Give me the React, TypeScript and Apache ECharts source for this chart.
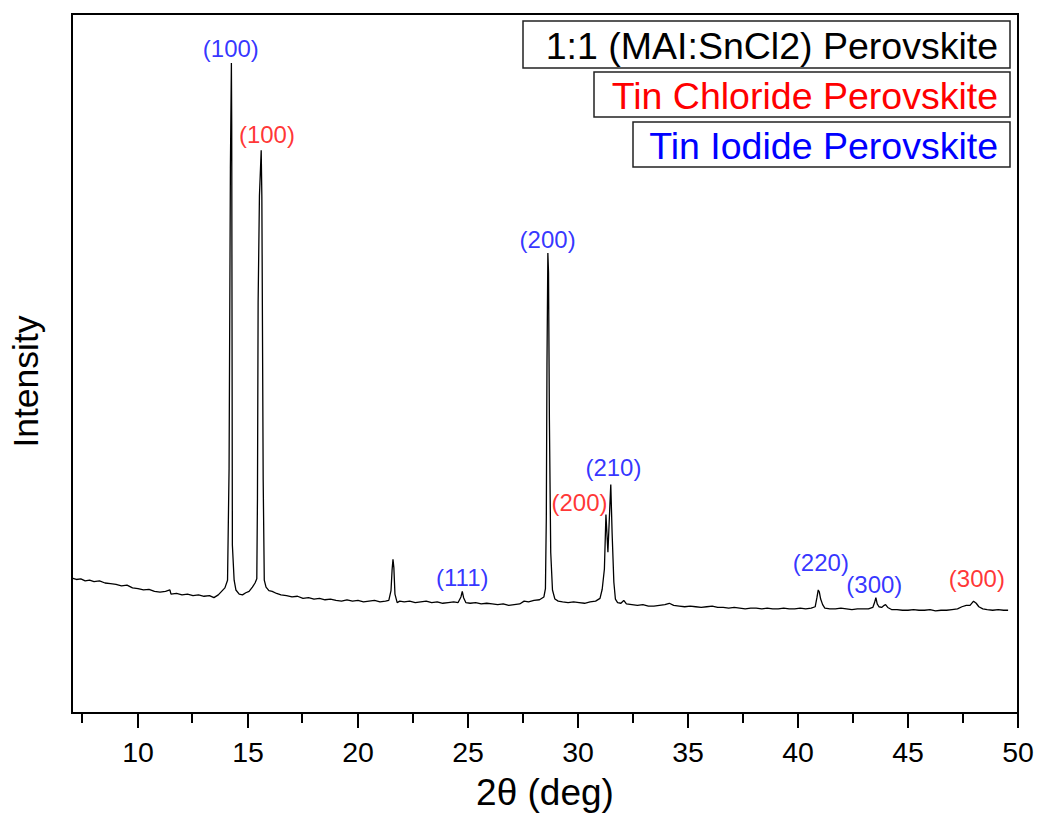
import React, { useEffect, useRef } from "react";
import * as echarts from "echarts";

// XRD pattern: [2θ (deg), intensity (a.u.)]
const pattern: [number, number][] = [
  [7.0, 19.3], [7.2, 19.1], [7.4, 19.2], [7.6, 18.9], [7.8, 19.0], [8.0, 18.8], [8.25, 18.9], [8.5, 18.6],
  [8.75, 18.5], [9.0, 18.4], [9.25, 18.2], [9.5, 18.3], [9.75, 17.9], [10.0, 17.8], [10.25, 17.6], [10.5, 17.7],
  [10.75, 17.4], [11.0, 17.3], [11.25, 17.4], [11.45, 17.6], [11.5, 17.0], [11.75, 17.1], [12.0, 16.9],
  [12.25, 17.0], [12.5, 16.8], [12.75, 16.9], [13.0, 16.7], [13.25, 16.8], [13.45, 16.5], [13.65, 16.9],
  [13.8, 17.4], [13.95, 17.9], [14.07, 19.0], [14.14, 35], [14.2, 78], [14.245, 93], [14.26, 84], [14.29, 24],
  [14.37, 19], [14.45, 17.6], [14.6, 17.0], [14.75, 16.9], [14.9, 17.2], [15.05, 17.4], [15.2, 18.0],
  [15.32, 18.6], [15.4, 19.2], [15.43, 30.7], [15.46, 58.7], [15.52, 74], [15.6, 80.5], [15.63, 73.8],
  [15.69, 33.4], [15.74, 19], [15.82, 18.0], [15.95, 17.5], [16.1, 17.4], [16.3, 17.1], [16.5, 16.9],
  [16.75, 16.8], [17.0, 16.6], [17.25, 16.7], [17.5, 16.4], [17.75, 16.5], [18.0, 16.3], [18.25, 16.4],
  [18.5, 16.2], [18.75, 16.3], [19.0, 16.1], [19.25, 16.0], [19.5, 16.2], [19.75, 16.0], [20.0, 16.1],
  [20.25, 15.9], [20.5, 16.0], [20.75, 16.1], [21.0, 15.9], [21.25, 16.0], [21.4, 16.1], [21.5, 17.5],
  [21.55, 20.5], [21.59, 22.0], [21.63, 20.8], [21.68, 17.0], [21.78, 15.8], [21.9, 16.0], [22.1, 15.9],
  [22.35, 16.0], [22.6, 15.8], [22.85, 15.9], [23.1, 16.0], [23.35, 15.8], [23.6, 15.9], [23.85, 15.7],
  [24.1, 15.8], [24.35, 15.9], [24.55, 15.8], [24.68, 16.6], [24.74, 17.4], [24.8, 16.5], [24.9, 15.8],
  [25.1, 15.7], [25.35, 15.8], [25.6, 15.6], [25.85, 15.7], [26.1, 15.6], [26.35, 15.5], [26.6, 15.6],
  [26.85, 15.4], [27.1, 15.5], [27.35, 15.6], [27.55, 16.0], [27.75, 15.9], [28.0, 16.1], [28.25, 16.2],
  [28.45, 16.6], [28.52, 17.8], [28.56, 28], [28.59, 50], [28.63, 65.8], [28.66, 63], [28.7, 42], [28.76, 23],
  [28.84, 17.6], [28.95, 16.3], [29.1, 16.0], [29.3, 15.9], [29.55, 15.8], [29.8, 15.9], [30.05, 15.8],
  [30.3, 15.7], [30.55, 15.9], [30.8, 16.0], [31.0, 16.4], [31.1, 17.7], [31.2, 20.6], [31.27, 28.4],
  [31.36, 23.0], [31.49, 32.7], [31.55, 25.8], [31.63, 18.7], [31.7, 16.3], [31.8, 15.8], [31.95, 15.7],
  [32.08, 16.1], [32.2, 15.6], [32.45, 15.5], [32.7, 15.4], [32.95, 15.5], [33.2, 15.3], [33.45, 15.3],
  [33.7, 15.4], [33.95, 15.5], [34.15, 15.7], [34.35, 15.4], [34.6, 15.3], [34.85, 15.2], [35.1, 15.3],
  [35.35, 15.2], [35.6, 15.1], [35.85, 15.2], [36.1, 15.3], [36.35, 15.1], [36.6, 15.1], [36.85, 15.0],
  [37.1, 15.1], [37.35, 15.0], [37.6, 14.9], [37.85, 15.0], [38.1, 15.0], [38.35, 14.9], [38.6, 15.0],
  [38.85, 14.9], [39.1, 14.9], [39.35, 15.0], [39.6, 14.9], [39.85, 14.9], [40.1, 15.0], [40.35, 14.9],
  [40.6, 15.0], [40.78, 15.2], [40.86, 16.5], [40.92, 17.6], [40.97, 17.3], [41.03, 16.3], [41.12, 15.5],
  [41.22, 15.0], [41.45, 14.9], [41.7, 14.9], [41.95, 15.0], [42.2, 14.9], [42.45, 14.8], [42.7, 14.9],
  [42.95, 14.9], [43.2, 14.9], [43.4, 15.1], [43.48, 15.8], [43.54, 16.5], [43.6, 15.6], [43.68, 15.2],
  [43.8, 15.1], [43.92, 15.4], [43.98, 15.5], [44.08, 15.1], [44.25, 14.8], [44.5, 14.8], [44.75, 14.7],
  [45.0, 14.7], [45.25, 14.8], [45.5, 14.7], [45.75, 14.7], [46.0, 14.8], [46.25, 14.6], [46.5, 14.7],
  [46.75, 14.7], [47.0, 14.8], [47.25, 14.9], [47.45, 15.2], [47.65, 15.4], [47.82, 15.4], [47.98, 16.0],
  [48.1, 15.7], [48.22, 15.2], [48.4, 14.9], [48.6, 14.8], [48.85, 14.7], [49.1, 14.8], [49.35, 14.7],
  [49.55, 14.7],
];

const majorTicks = [10, 15, 20, 25, 30, 35, 40, 45, 50];
const minorTicks = [7.5, 12.5, 17.5, 22.5, 27.5, 32.5, 37.5, 42.5, 47.5];

// Peak index annotations
const peakLabels = ["(100)", "(100)", "(111)", "(200)", "(200)", "(210)", "(220)", "(300)", "(300)"];
const peakLabelX = [14.22, 15.86, 24.74, 28.62, 30.07, 31.61, 41.04, 43.47, 48.13];
const peakLabelY = [95.1, 82.8, 19.4, 67.7, 30.1, 35.1, 21.6, 18.4, 19.3];
const peakPhase = ["iodide", "chloride", "iodide", "iodide", "chloride", "iodide", "iodide", "iodide", "chloride"];

const legendLabels = ["1:1 (MAI:SnCl2) Perovskite", "Tin Chloride Perovskite", "Tin Iodide Perovskite"];
const legendColors = ["#000000", "#ff0000", "#0000ff"];

const FONT = "'Liberation Sans', Arial, sans-serif";
const phaseColor: Record<string, string> = { iodide: "#0000ff", chloride: "#ff0000" };

export default function App() {
  const ref = useRef<HTMLDivElement>(null);

  useEffect(() => {
    if (!ref.current) return;
    const chart = echarts.init(ref.current, undefined, { renderer: "svg" });

    const legendBoxes = [
      { x: 523, y: 21, w: 487, h: 47 },
      { x: 594, y: 72, w: 416, h: 45 },
      { x: 633, y: 122, w: 377, h: 45 },
    ];

    const graphic: any[] = [];
    legendLabels.forEach((label, i) => {
      const b = legendBoxes[i];
      graphic.push({
        type: "rect",
        shape: { x: b.x, y: b.y, width: b.w, height: b.h },
        style: { fill: "#ffffff", stroke: "#222222", lineWidth: 1.5 },
        z: 10,
      });
      graphic.push({
        type: "text",
        x: 998,
        y: b.y + b.h / 2 + 1,
        style: {
          text: label,
          fill: legendColors[i],
          font: `37.5px ${FONT}`,
          textAlign: "right",
          textVerticalAlign: "middle",
        },
        z: 11,
      });
    });

    const gridBox = { left: 71, right: 21, top: 14, bottom: 102 };

    chart.setOption({
      animation: false,
      backgroundColor: "#ffffff",
      grid: [
        { ...gridBox, show: true, borderColor: "#000", borderWidth: 2, backgroundColor: "transparent" },
        { ...gridBox, show: false },
      ],
      xAxis: [
        {
          type: "value",
          gridIndex: 0,
          min: 7,
          max: 50,
          position: "bottom",
          axisLine: { show: true, onZero: false, lineStyle: { color: "#000", width: 2 } },
          axisTick: { show: true, inside: false, length: 15, customValues: majorTicks, lineStyle: { color: "#000", width: 2 } },
          axisLabel: { show: true, customValues: majorTicks, margin: 24, color: "#000", fontSize: 28.5, fontFamily: FONT },
          splitLine: { show: false },
          name: "2θ (deg)",
          nameLocation: "middle",
          nameGap: 61,
          nameTextStyle: { color: "#000", fontSize: 37, fontFamily: FONT },
        },
        {
          type: "value",
          gridIndex: 1,
          min: 7,
          max: 50,
          position: "bottom",
          axisLine: { show: false, onZero: false },
          axisTick: { show: true, inside: false, length: 9, customValues: minorTicks, lineStyle: { color: "#000", width: 2 } },
          axisLabel: { show: false },
          splitLine: { show: false },
        },
      ],
      yAxis: [
        {
          type: "value",
          gridIndex: 0,
          min: 0,
          max: 100,
          axisLine: { show: true, onZero: false, lineStyle: { color: "#000", width: 2 } },
          axisTick: { show: false },
          axisLabel: { show: false },
          splitLine: { show: false },
          name: "Intensity",
          nameLocation: "middle",
          nameGap: 28,
          nameRotate: 90,
          nameTextStyle: { color: "#000", fontSize: 35.5, fontFamily: FONT, padding: [0, 36, 0, 0] },
        },
        {
          type: "value",
          gridIndex: 1,
          min: 0,
          max: 100,
          show: false,
        },
      ],
      series: [
        {
          type: "line",
          xAxisIndex: 0,
          yAxisIndex: 0,
          data: pattern,
          symbol: "none",
          lineStyle: { color: "#000", width: 1.3 },
          z: 3,
        },
        {
          type: "scatter",
          xAxisIndex: 0,
          yAxisIndex: 0,
          symbolSize: 0,
          silent: true,
          data: peakLabels.map((t, i) => ({
            name: t,
            value: [peakLabelX[i], peakLabelY[i]],
            label: { color: phaseColor[peakPhase[i]] },
          })),
          label: {
            show: true,
            position: "inside",
            formatter: (p: any) => p.name,
            fontSize: 24,
            fontFamily: FONT,
            align: "center",
            verticalAlign: "middle",
          },
          z: 4,
        },
      ],
      graphic,
    });

    return () => chart.dispose();
  }, []);

  return (
    <div
      ref={ref}
      style={{ position: "absolute", left: 0, top: 0, width: 1039, height: 816, background: "#fff" }}
    />
  );
}
